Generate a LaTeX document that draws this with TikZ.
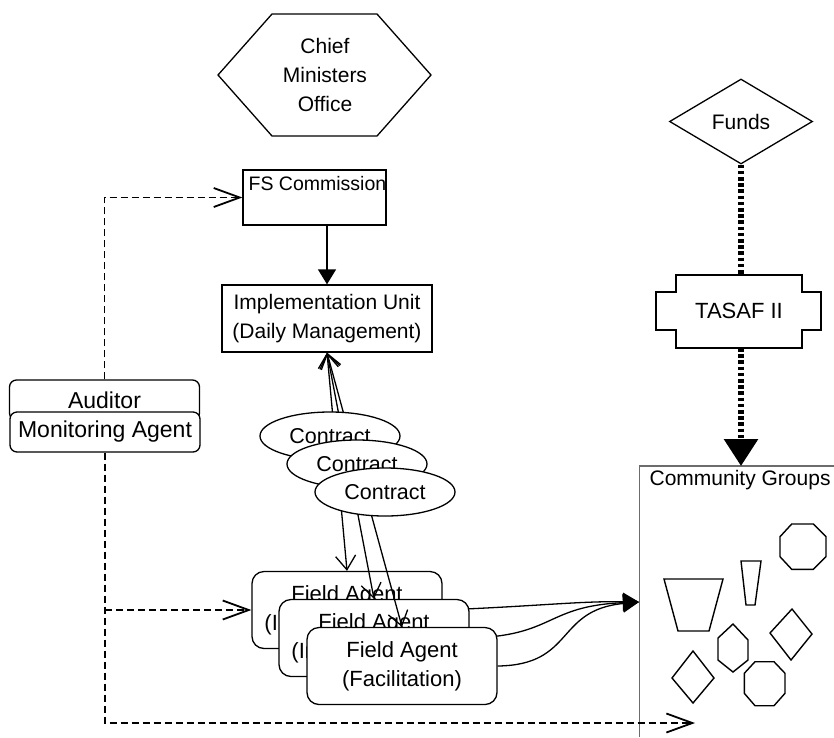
\documentclass[tikz,border=0pt]{standalone}
\usepackage{fontspec}
\setmainfont{Liberation Sans}
\usetikzlibrary{arrows.meta,shapes.geometric}
\begin{document}
\begin{tikzpicture}[x=1pt,y=-1pt,line width=1.3pt,
  txt/.style={font=\fontsize{21}{29}\selectfont,align=center,inner sep=0pt},
  box/.style={draw,fill=white,inner sep=0pt},
  fabox/.style={box,txt,font=\fontsize{22}{29}\selectfont,rounded corners=12pt,minimum width=190pt,minimum height=77pt},
  agbox/.style={box,txt,font=\fontsize{23}{29}\selectfont,rounded corners=7pt,minimum width=190pt,minimum height=40pt},
  contr/.style={box,txt,font=\fontsize{21.5}{29}\selectfont,ellipse,minimum width=140pt,minimum height=48pt},
  dashln/.style={line width=1.8pt,dash pattern=on 7pt off 4pt,-{Straight Barb[length=26pt,width=19pt]}},
  barb/.style={{Straight Barb[length=14pt,width=20pt]}-{Straight Barb[length=14pt,width=20pt]}},
  solidarr/.style={-{Triangle[length=15pt,width=18pt]}},
  fundln/.style={line width=6pt,dash pattern=on 3.5pt off 2.7pt},
  cgarr/.style={-{Triangle[length=16pt,width=18pt]}},
  cgshape/.style={line width=1.4pt,line join=miter}]
\useasboundingbox (0,0) rectangle (834,737);

% Chief Ministers Office
\draw (218,75) -- (272,14) -- (377,14) -- (431,75) -- (377,136) -- (272,136) -- cycle;
\node[txt] (cmo) at (325,75) {Chief\\Ministers\\Office};

% FS Commission
\node[box,minimum width=143pt,minimum height=55pt] (fs) at (314.5,197.5) {};
\node[txt,font=\fontsize{19.5}{24}\selectfont,anchor=base west] (fslab) at (248,190) {FS Commission};

% Implementation Unit
\node[box,txt,minimum width=210pt,minimum height=67pt] (iu) at (327,318.5) {Implementation Unit\\(Daily Management)};
\draw[solidarr] (fs.south -| iu.south) -- (iu.north);

% Funds and TASAF
\node[draw,diamond,inner sep=0pt,minimum width=143pt,minimum height=85pt,txt] (funds) at (741,121.5) {Funds};
\draw (676,275) -- (802,275) -- (802,292) -- (821,292) -- (821,330) -- (802,330) -- (802,348) -- (676,348) -- (676,330) -- (656,330) -- (656,292) -- (676,292) -- cycle;
\node[txt,font=\fontsize{22}{29}\selectfont] (tasaf) at (739,311) {TASAF II};
\coordinate (tasaftop) at (741,275);
\coordinate (tasafbot) at (741,348);

% Community groups
\coordinate (cgnw) at (639.5,466);
\coordinate (cgsw) at (639.5,737);
\coordinate (cgne) at (834,466);
\draw[gray!85!black,line width=1.8pt] (cgsw) -- (cgnw) -- (cgne);
\node[txt,anchor=base west] (cglab) at (649,485) {Community Groups};
\coordinate (cgtop) at (741,466);
\coordinate (cgin) at (639,602);
\coordinate (cgend) at (695,723);

\draw[fundln] (funds.south) -- (tasaftop);
\draw[fundln,-{Triangle[length=27pt,width=33pt]}] (tasafbot) -- (cgtop);

% shapes inside community groups
\draw[cgshape] (791.7,524) -- (813.3,524) -- (826,536.7) -- (826,556.7) -- (813.3,569.3) -- (791.7,569.3) -- (780,556.7) -- (780,536.7) -- cycle;
\draw[cgshape] (741,561) -- (761,561) -- (755,605) -- (746,605) -- cycle;
\draw[cgshape] (664,579) -- (723,579) -- (709,631) -- (678,631) -- cycle;
\draw[cgshape] (792,609) -- (812,634) -- (791,660) -- (770,633) -- cycle;
\draw[cgshape] (733,624) -- (748,640) -- (748,660) -- (733,672) -- (718,660) -- (718,638) -- cycle;
\draw[cgshape] (755,661.7) -- (774,661.7) -- (785,673.3) -- (785,693.3) -- (774,705.7) -- (755,705.7) -- (744.3,693.3) -- (744.3,673.3) -- cycle;
\draw[cgshape] (693,651) -- (714,678) -- (693,703) -- (672,678) -- cycle;

% Auditor / Monitoring
\node[agbox] (aud) at (104.5,400) {Auditor};
\node[agbox] (mon) at (105,432) {Monitoring Agent};

% Field agents and their connectors to the community
\node[fabox] (fa1) at (347,610) {Field Agent\\(Implementation)};
\draw[cgarr] (fa1.east) .. controls (540,606) and (580,601) .. (cgin);
\node[fabox] (fa2) at (374,638) {Field Agent\\(Implementation)};
\draw[cgarr] (fa2.east) .. controls (555,636) and (545,606) .. (cgin);
\node[fabox] (fa3) at (402,666) {Field Agent\\(Facilitation)};
\draw[cgarr] (fa3.east) .. controls (575,665) and (555,610) .. (cgin);

% dashed monitoring lines
\draw[dashln] (aud.north) |- (fs.west);
\coordinate (branch) at (mon.south |- fa1.west);
\draw[dashln] (mon.south) |- (cgend);
\draw[dashln] (branch) -- (fa1.west);

% contract lines
\draw[barb] (iu.south) -- (fa1.north);
\draw[barb] (iu.south) -- (fa2.north);
\draw[barb] (iu.south) -- (fa3.north);

% contracts
\node[contr] (c1) at (330,436) {Contract};
\node[contr] (c2) at (357,464) {Contract};
\node[contr] (c3) at (385,492) {Contract};
\end{tikzpicture}
\end{document}
